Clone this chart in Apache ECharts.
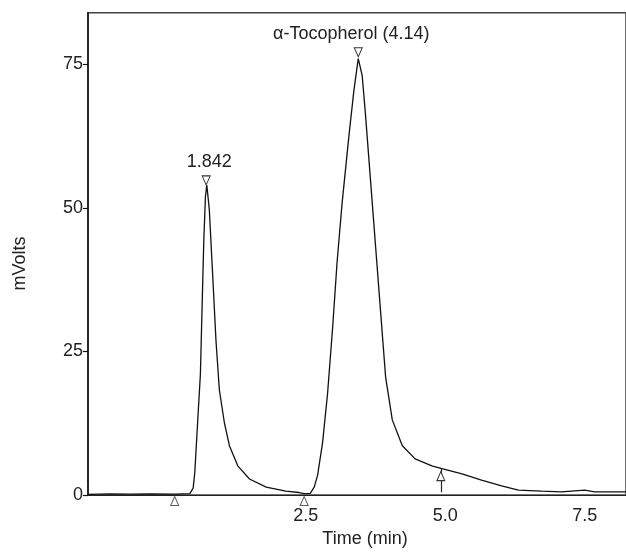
<!DOCTYPE html>
<html>
<head>
<meta charset="utf-8">
<script src="https://cdn.jsdelivr.net/npm/echarts@6/dist/echarts.min.js"></script>
<style>
  html, body { margin: 0; padding: 0; background: #fff; }
  #main { width: 626px; height: 553px; }
</style>
</head>
<body>
<div id="main"></div>
<script>
// chromatogram trace
var times = [-1.41, -1.01, -0.65, -0.30, 0.15, 0.42, 0.48, 0.51, 0.56, 0.61, 0.64, 0.67, 0.70, 0.725,
  0.77, 0.83, 0.89, 0.95, 1.04, 1.13, 1.28, 1.49, 1.79, 2.14, 2.38, 2.47, 2.58,
  2.65, 2.71, 2.80, 2.89, 2.98, 3.06, 3.15, 3.27, 3.36, 3.44,
  3.51, 3.57, 3.66, 3.75, 3.84, 3.93, 4.05, 4.23, 4.46, 4.76, 4.94, 5.30, 5.65,
  6.01, 6.31, 6.73, 7.08, 7.32, 7.50, 7.68, 8.24];
var mvolts = [0.14, 0.22, 0.17, 0.22, 0.17, 0.27, 1.2, 4.0, 12.6, 21.1, 32.6, 44.0, 51.9, 54.0,
  49.7, 38.3, 26.8, 18.3, 12.6, 8.6, 5.1, 2.8, 1.4, 0.7, 0.45, 0.27, 0.3,
  1.4, 3.4, 9.1, 17.7, 29.1, 40.5, 50.8, 62.3, 70.3, 76.0,
  73.1, 66.2, 54.8, 43.4, 32.0, 20.6, 13.1, 8.6, 6.3, 5.1, 4.6, 3.7, 2.6,
  1.6, 0.86, 0.69, 0.57, 0.74, 0.86, 0.57, 0.57];

// peak apex markers
var peakTimes = [0.714, 3.44];
var peakLevels = [54.8, 77.1];
var peakNames = ['1.842', 'α-Tocopherol (4.14)'];

// integration start/end markers under the baseline
var baseTimes = [0.149, 2.47];
var baseLevel = -1.03;

// drop line at end of the second peak
var dropTime = 4.92;
var dropFrom = 0.5;
var dropTo = 4.6;
var dropMark = 3.3;

var xTicks = [2.5, 5.0, 7.5];
var yTicks = [0, 25, 50, 75];

var font = 'Liberation Sans, Arial, Helvetica, sans-serif';
var txt = '#222';
var labelNudge = [[3, 0], [-7, 0]];

var trace = times.map(function (t, i) { return [t, mvolts[i]]; });

var peakPoints = peakTimes.map(function (t, i) {
  return {
    coord: [t, peakLevels[i]],
    symbolRotate: 180,
    label: { show: true, formatter: peakNames[i], position: 'top', distance: 4, offset: labelNudge[i] }
  };
});
peakPoints.push({ coord: [dropTime, dropMark], label: { show: false } });

var basePoints = baseTimes.map(function (t) { return [t, baseLevel]; });

var myChart = echarts.init(document.getElementById('main'));

var markStyle = { color: '#fff', borderColor: '#333', borderWidth: 1 };

var option = {
  animation: false,
  backgroundColor: '#fff',
  textStyle: { fontFamily: font },
  grid: {
    left: 88, top: 12.7, right: -2, bottom: 49.7,
    show: true, borderColor: '#444', borderWidth: 1.5, backgroundColor: 'transparent'
  },
  xAxis: {
    type: 'value',
    min: -1.405,
    max: 8.24,
    name: 'Time (min)',
    nameLocation: 'middle',
    nameGap: 33,
    nameTextStyle: { color: txt, fontSize: 18, fontFamily: font, padding: [0, 0, 0, 16] },
    axisLine: { show: true, onZero: false, lineStyle: { color: '#222', width: 1.2 } },
    axisTick: { show: false },
    splitLine: { show: false },
    axisLabel: {
      customValues: xTicks,
      margin: 12,
      color: txt,
      fontSize: 18,
      fontFamily: font,
      formatter: function (v) { return v.toFixed(1); }
    }
  },
  yAxis: {
    type: 'value',
    min: 0,
    max: 84,
    name: 'mVolts',
    nameLocation: 'middle',
    nameGap: 59,
    nameTextStyle: { color: txt, fontSize: 18, fontFamily: font, padding: [0, 19, 0, 0] },
    axisLine: { show: true, onZero: false, lineStyle: { color: '#111', width: 1.5 } },
    axisTick: { show: true, customValues: yTicks, length: 5, lineStyle: { color: '#111', width: 1.2 } },
    splitLine: { show: false },
    axisLabel: { customValues: yTicks, margin: 5, color: txt, fontSize: 18, fontFamily: font }
  },
  series: [
    {
      type: 'line',
      data: trace,
      showSymbol: false,
      lineStyle: { color: '#111', width: 1.3 },
      clip: false,
      markPoint: {
        symbol: 'triangle',
        symbolSize: [8, 9],
        itemStyle: markStyle,
        label: { color: txt, fontSize: 18, fontFamily: font },
        data: peakPoints
      },
      markLine: {
        symbol: ['none', 'none'],
        silent: true,
        label: { show: false },
        lineStyle: { color: '#222', width: 1.2, type: 'solid' },
        data: [[{ coord: [dropTime, dropFrom] }, { coord: [dropTime, dropTo] }]]
      }
    },
    {
      type: 'scatter',
      data: basePoints,
      clip: false,
      symbol: 'triangle',
      symbolSize: [8, 9],
      itemStyle: markStyle,
      z: 3
    }
  ]
};

myChart.setOption(option);
</script>
</body>
</html>
